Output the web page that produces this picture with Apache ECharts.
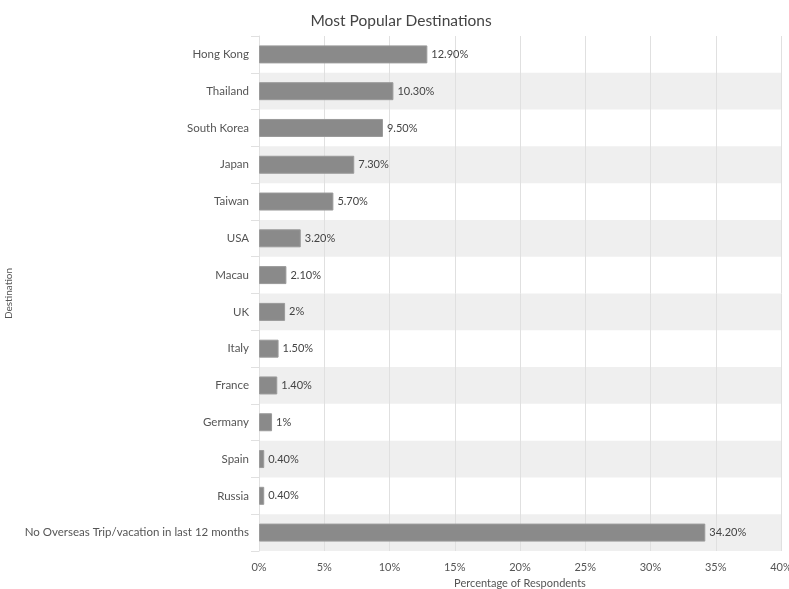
<!DOCTYPE html>
<html><head><meta charset="utf-8">
<script src="https://cdn.jsdelivr.net/npm/echarts@6/dist/echarts.min.js"></script>
<style>html,body{margin:0;padding:0;background:#fff}#c{width:789px;height:589px}</style>
</head><body><div id="c"></div>
<script>
const categories = ["Hong Kong","Thailand","South Korea","Japan","Taiwan","USA","Macau","UK","Italy","France","Germany","Spain","Russia","No Overseas Trip/vacation in last 12 months"];
const values = [12.9,10.3,9.5,7.3,5.7,3.2,2.1,2,1.5,1.4,1,0.4,0.4,34.2];
const xTicks = [0,5,10,15,20,25,30,35,40];
const FONT = 'Lato, "Open Sans", sans-serif';
const chart = echarts.init(document.getElementById('c'));
chart.setOption({
  animation:false,
  title:{text:'Most Popular Destinations',left:396,textAlign:'center',top:8,textStyle:{fontFamily:FONT,fontSize:15.5,fontWeight:'normal',color:'#444'}},
  grid:{left:259,right:8,top:36,bottom:38,containLabel:false,outerBoundsMode:'none'},
  xAxis:{type:'value',min:xTicks[0],max:xTicks[xTicks.length-1],interval:5,
    name:'Percentage of Respondents',nameLocation:'middle',nameGap:27,
    nameTextStyle:{fontFamily:FONT,fontSize:11,color:'#555'},
    axisLine:{show:false},axisTick:{show:false},
    axisLabel:{formatter:'{value}%',fontFamily:FONT,fontSize:11,color:'#555',margin:11},
    splitLine:{show:true,lineStyle:{color:'#e0e0e0',width:1}}},
  yAxis:{type:'category',data:categories,inverse:true,
    name:'Destination',nameLocation:'middle',nameGap:238,nameRotate:90,
    nameTextStyle:{fontFamily:FONT,fontSize:10,color:'#555'},
    axisLine:{show:true,lineStyle:{color:'#e0e0e0'}},
    axisTick:{show:true,length:8,lineStyle:{color:'#e0e0e0'}},
    axisLabel:{fontFamily:FONT,fontSize:11.5,color:'#555',margin:10},
    splitArea:{show:true,areaStyle:{color:['rgba(0,0,0,0)','#efefef']}}},
  series:[{type:'bar',data:values,barWidth:18,
    itemStyle:{color:'#8a8a8a',borderColor:'#9a9a9a',borderWidth:1},
    label:{show:true,position:'right',distance:4,fontFamily:FONT,fontSize:11,color:'#444',
      formatter:p=>(Number.isInteger(p.value)?p.value:p.value.toFixed(2))+'%'}}]
});
</script></body></html>
